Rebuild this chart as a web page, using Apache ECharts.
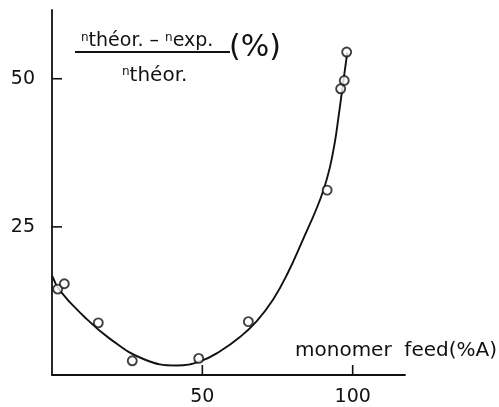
<!DOCTYPE html>
<html>
<head>
<meta charset="utf-8">
<script src="https://cdn.jsdelivr.net/npm/echarts@6/dist/echarts.min.js"></script>
<style>
  html, body { margin: 0; padding: 0; background: #fff; }
  #chart { width: 499px; height: 407px; }
</style>
</head>
<body>
<div id="chart"></div>
<script>
// measured points (monomer feed %A, deviation %)
const feedPoints = [1.9, 4.1, 15.4, 26.7, 48.8, 65.3, 91.5, 96.0, 97.2, 98.0];
const devPoints = [14.5, 15.4, 8.8, 2.4, 2.8, 9.0, 31.2, 48.3, 49.7, 54.5];

// fitted curve
const curveFeed = [0.1, 2.7, 10.4, 19.3, 30.4, 41.5, 49.2, 55.9, 62.5, 68.1, 73.6, 78.5, 83.5, 88.0, 90.4, 92.4, 94.1, 95.3, 96.3, 97.2, 98.2];
const curveDev = [16.7, 14.2, 10.0, 6.1, 2.7, 1.6, 2.3, 4.0, 6.4, 9.1, 12.8, 17.3, 22.9, 28.1, 31.4, 35.0, 39.4, 43.6, 47.3, 50.7, 54.4];

const xTicks = [50, 100];
const yTicks = [25, 50];

const font = "DejaVu Sans";
const ink = "#111";
const tickLen = 10;

const chart = echarts.init(document.getElementById("chart"));

// inward tick marks, placed through the axes' own scale
function tickItem(params, api) {
    const axis = api.value(0);
    const v = api.value(1);
    if (axis === 0) {
        const p = api.coord([v, 0]);
        return {
            type: "line",
            shape: { x1: p[0], y1: p[1], x2: p[0], y2: p[1] - tickLen },
            style: { stroke: ink, lineWidth: 1.6 }
        };
    }
    const p = api.coord([0, v]);
    return {
        type: "line",
        shape: { x1: p[0], y1: p[1], x2: p[0] + tickLen, y2: p[1] },
        style: { stroke: ink, lineWidth: 1.6 }
    };
}

chart.setOption({
    animation: false,
    backgroundColor: "#fff",
    grid: { left: 52, right: 94, top: 10, bottom: 31 },
    xAxis: {
        type: "value",
        min: 0,
        max: 117.4,
        interval: 50,
        splitLine: { show: false },
        axisLine: { lineStyle: { color: ink, width: 1.8 } },
        axisTick: { show: false },
        axisLabel: {
            margin: 13,
            color: ink,
            fontFamily: font,
            fontSize: 19,
            customValues: xTicks
        }
    },
    yAxis: {
        type: "value",
        min: 0,
        max: 61.6,
        interval: 25,
        splitLine: { show: false },
        axisLine: { lineStyle: { color: ink, width: 1.8 } },
        axisTick: { show: false },
        axisLabel: {
            margin: 17,
            color: ink,
            fontFamily: font,
            fontSize: 19,
            customValues: yTicks
        }
    },
    graphic: [
        {
            // y axis title as a fraction
            type: "text",
            left: 81,
            top: 32,
            style: {
                text: "{s|n}{b|théor.} – {s|n}{b|exp.}",
                rich: {
                    s: { fontFamily: font, fontSize: 12, verticalAlign: "top", fill: ink },
                    b: { fontFamily: font, fontSize: 19, fill: ink }
                },
                fontFamily: font,
                fontSize: 19,
                fill: ink
            }
        },
        {
            type: "line",
            shape: { x1: 75, y1: 52, x2: 230, y2: 52 },
            style: { stroke: ink, lineWidth: 1.8 }
        },
        {
            type: "text",
            left: 122,
            top: 66,
            style: {
                text: "{s|n}{b|théor.}",
                rich: {
                    s: { fontFamily: font, fontSize: 12, verticalAlign: "top", fill: ink },
                    b: { fontFamily: font, fontSize: 20, fill: ink }
                },
                fill: ink
            }
        },
        {
            type: "text",
            left: 229,
            top: 33,
            style: { text: "(%)", fontFamily: font, fontSize: 30, fill: ink }
        },
        {
            // x axis name
            type: "text",
            right: 2,
            top: 341,
            style: { text: "monomer  feed(%A)", fontFamily: font, fontSize: 20, fill: ink }
        }
    ],
    series: [
        {
            type: "line",
            data: curveFeed.map((x, i) => [x, curveDev[i]]),
            smooth: 0.45,
            showSymbol: false,
            lineStyle: { color: ink, width: 1.9 },
            z: 2
        },
        {
            type: "scatter",
            data: feedPoints.map((x, i) => [x, devPoints[i]]),
            symbol: "circle",
            symbolSize: 9,
            itemStyle: { color: "#fff", borderColor: ink, borderWidth: 1.9 },
            z: 3
        },
        {
            type: "custom",
            renderItem: tickItem,
            data: xTicks.map(v => [0, v]).concat(yTicks.map(v => [1, v])),
            clip: false,
            silent: true,
            z: 4
        }
    ]
});
</script>
</body>
</html>
